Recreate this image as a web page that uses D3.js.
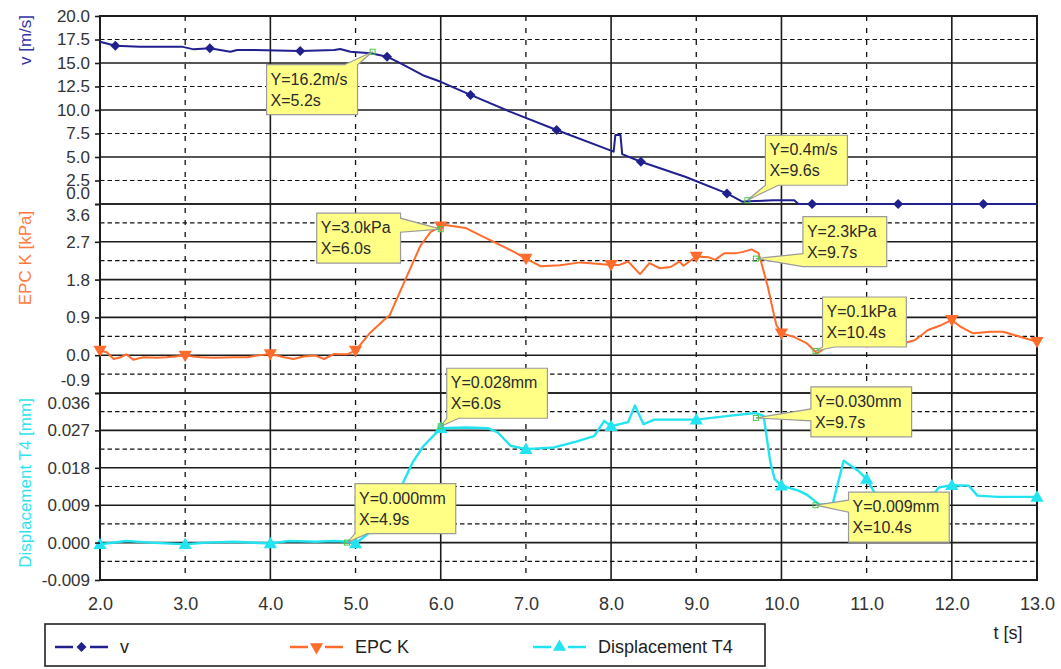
<!DOCTYPE html>
<html><head><meta charset="utf-8">
<script src="https://cdn.jsdelivr.net/npm/d3@7"></script>
<style>
html,body{margin:0;padding:0;background:#fff;}
svg{display:block;font-family:"Liberation Sans",Arial,sans-serif;}
</style></head><body>
<svg id="chart" width="1061" height="669"></svg>
<script>
// ---------------- DATA ----------------
const xTickLabels = [2,3,4,5,6,7,8,9,10,11,12,13];
const vTickLabels = [0,2.5,5,7.5,10,12.5,15,17.5,20];
const epcTickLabels = [-0.9,0,0.9,1.8,2.7,3.6];
const dispTickLabels = [-0.009,0,0.009,0.018,0.027,0.036];

const seriesNames = ["v","EPC K","Displacement T4"];
const axisTitles = ["v [m/s]","EPC K [kPa]","Displacement T4 [mm]"];
const xTitle = "t [s]";

const vT = [2.00,2.18,2.47,2.96,3.10,3.29,3.53,3.61,3.80,4.35,4.75,4.82,4.94,5.18,5.37,5.53,5.79,6.00,6.35,6.82,7.36,8.03,8.05,8.11,8.13,8.35,8.87,9.36,9.54,9.60,9.90,10.15,10.20,10.36,11.37,12.37,13.00];
const vV = [17.27,16.84,16.74,16.74,16.45,16.56,16.20,16.38,16.38,16.28,16.38,16.49,16.20,16.03,15.67,14.96,13.70,13.00,11.60,9.80,7.87,5.57,7.34,7.34,5.30,4.50,2.90,1.13,0.25,0.28,0.40,0.40,0.00,0.00,0.00,0.00,0.00];
const vMarkerT = [2.18,3.29,4.35,5.37,6.35,7.36,8.35,9.36,10.36,11.37,12.37];

const epcT = [2.00,2.08,2.16,2.24,2.31,2.39,2.51,2.67,2.78,3.00,3.18,3.33,3.57,3.73,3.84,4.00,4.16,4.27,4.39,4.53,4.63,4.75,4.82,4.90,5.00,5.16,5.33,5.40,5.53,5.76,5.88,6.00,6.05,6.29,6.46,6.70,6.87,7.00,7.17,7.40,7.64,7.87,8.00,8.10,8.20,8.34,8.45,8.57,8.70,8.80,8.85,9.00,9.15,9.22,9.33,9.47,9.55,9.65,9.73,9.76,9.84,9.90,9.94,10.00,10.14,10.30,10.42,10.60,11.00,11.20,11.43,11.57,11.72,11.88,12.00,12.10,12.25,12.45,12.60,12.80,13.00];
const epcV = [0.11,0.07,-0.09,-0.05,0.02,-0.11,-0.05,-0.06,-0.05,-0.01,-0.05,-0.06,-0.05,-0.05,-0.01,0.03,-0.05,-0.09,-0.03,-0.01,-0.09,0.03,0.02,0.02,0.11,0.51,0.83,0.95,1.55,2.60,2.93,3.07,3.10,3.03,2.86,2.62,2.45,2.30,2.12,2.14,2.21,2.17,2.15,2.15,2.23,1.93,2.19,2.07,2.10,2.23,2.13,2.35,2.33,2.27,2.43,2.43,2.46,2.52,2.43,2.23,1.63,1.07,0.72,0.52,0.44,0.28,0.04,0.30,0.32,0.34,0.28,0.36,0.60,0.72,0.84,0.68,0.52,0.56,0.56,0.44,0.32];
const epcMarkerT = [2,3,4,5,6,7,8,9,10,11,12,13];

const dispT = [2.00,2.31,2.59,3.00,3.25,3.57,4.00,4.22,4.53,4.75,4.90,5.00,5.20,5.35,5.45,5.56,5.67,5.80,6.00,6.30,6.56,6.67,6.82,7.00,7.33,7.59,7.80,7.92,8.00,8.10,8.20,8.28,8.38,8.51,9.00,9.38,9.69,9.79,9.87,9.92,10.00,10.20,10.30,10.44,10.60,10.73,10.90,11.00,11.10,11.50,11.80,11.85,12.00,12.20,12.30,12.54,13.00];
const dispV = [-0.0004,0.0004,0.0000,-0.0004,0.0000,0.0002,-0.0002,0.0004,0.0002,0.0004,0.0002,-0.0002,0.0030,0.0065,0.0100,0.0145,0.0193,0.0233,0.0275,0.0277,0.0275,0.0265,0.0233,0.0225,0.0229,0.0243,0.0256,0.0293,0.0280,0.0285,0.0290,0.0330,0.0285,0.0296,0.0296,0.0305,0.0312,0.0305,0.0193,0.0153,0.0137,0.0125,0.0115,0.0092,0.0092,0.0197,0.0173,0.0153,0.0118,0.0115,0.0120,0.0133,0.0138,0.0137,0.0113,0.0110,0.0110];
const dispMarkerT = [2,3,4,5,6,7,8,9,10,11,12,13];

// callout annotations: series index, X, Y
const annSeries = [0,0,1,1,1,2,2,2,2];
const annX = [5.2,9.6,6.0,9.7,10.4,6.0,9.7,10.4,4.9];
const annY = [16.2,0.4,3.0,2.3,0.1,0.028,0.030,0.009,0.000];
const annUnits = ["m/s","kPa","mm"];
const annDecimals = [1,1,3];

// ---------------- LAYOUT / STYLE ----------------
const colors = ["#20208e","#ff6c2c","#22e4f0"];
const titleColors = ["#3434a8","#ff7a3c","#30e2f0"];
const calloutLayout = [
  {dx:-106, dy:13,  edge:"top",    base:[-13,0]},
  {dx:18,   dy:-65, edge:"bottom", base:[0,13]},
  {dx:-124, dy:-16, edge:"right",  base:[5,19]},
  {dx:47,   dy:-42, edge:"left",   base:[37,50]},
  {dx:7,    dy:-54, edge:"bottom", base:[0,12]},
  {dx:6,    dy:-58, edge:"bottom", base:[0,12]},
  {dx:55,   dy:-31, edge:"left",   base:[22,34]},
  {dx:33,   dy:-13, edge:"left",   base:[8,20]},
  {dx:8,    dy:-59, edge:"bottom", base:[0,12]}
];

const svg = d3.select("#chart");
const L = 100, R = 1037;
const x = d3.scaleLinear().domain([2,13]).range([L,R]);
const yV = d3.scaleLinear().domain([0,20]).range([204,16]);
const yE = d3.scaleLinear().domain([-0.9,3.6]).range([393,204]);
const yD = d3.scaleLinear().domain([-0.009,0.036]).range([580,393]);
const yScales = [yV,yE,yD];
const TOP = yV.range()[1], BOT = yD.range()[0];

const solidCol = "#1c1c1c";
const grid = svg.append("g");

function mids(arr){ return d3.pairs(arr).map(p => (p[0]+p[1])/2); }
const hLines = [];
vTickLabels.forEach(v => hLines.push({y:yV(v), solid: Math.abs(v%5)<1e-9}));
epcTickLabels.forEach(v => hLines.push({y:yE(v), solid:true}));
mids(epcTickLabels).forEach(v => hLines.push({y:yE(v), solid:false}));
dispTickLabels.forEach(v => hLines.push({y:yD(v), solid:true}));
mids(dispTickLabels).forEach(v => hLines.push({y:yD(v), solid:false}));

grid.selectAll("line.hd").data(hLines.filter(d=>!d.solid)).join("line")
  .attr("x1",L).attr("x2",R).attr("y1",d=>d.y).attr("y2",d=>d.y)
  .attr("stroke","#111").attr("stroke-width",1.2).attr("stroke-dasharray","4.5,3");
grid.selectAll("line.vd").data(xTickLabels.filter(t=>t%2===1)).join("line")
  .attr("x1",d=>x(d)).attr("x2",d=>x(d)).attr("y1",TOP).attr("y2",BOT)
  .attr("stroke","#111").attr("stroke-width",1.3).attr("stroke-dasharray","5,7");
grid.selectAll("line.hs").data(hLines.filter(d=>d.solid)).join("line")
  .attr("x1",L).attr("x2",R).attr("y1",d=>d.y).attr("y2",d=>d.y)
  .attr("stroke",solidCol).attr("stroke-width",1.6);
grid.selectAll("line.vs").data(xTickLabels.filter(t=>t%2===0)).join("line")
  .attr("x1",d=>x(d)).attr("x2",d=>x(d)).attr("y1",TOP).attr("y2",BOT)
  .attr("stroke",solidCol).attr("stroke-width",1.6);
svg.append("rect").attr("x",L).attr("y",TOP).attr("width",R-L).attr("height",BOT-TOP)
  .attr("fill","none").attr("stroke",solidCol).attr("stroke-width",2);

// ---------------- SERIES ----------------
const seriesT = [vT,epcT,dispT];
const seriesV = [vV,epcV,dispV];
const markerT = [vMarkerT,epcMarkerT,dispMarkerT];
const symbols = [d3.symbolSquare, d3.symbolTriangle, d3.symbolTriangle];
const symRot = [45,180,0];
const symSize = [50,75,75];

const plot = svg.append("g");
seriesT.forEach((ts,i) => {
  const pts = ts.map((t,k)=>[t, seriesV[i][k]]);
  const line = d3.line().x(d=>x(d[0])).y(d=>yScales[i](d[1]));
  plot.append("path").datum(pts).attr("d",line)
    .attr("fill","none").attr("stroke",colors[i]).attr("stroke-width",i===2?2.4:2)
    .attr("stroke-linejoin","round");
  const mk = markerT[i].map(t => pts.find(p => Math.abs(p[0]-t)<1e-9)).filter(Boolean);
  plot.selectAll(null).data(mk).join("path")
    .attr("d", d3.symbol().type(symbols[i]).size(symSize[i]))
    .attr("transform", d => `translate(${x(d[0])},${yScales[i](d[1]) + (i===1?-1:(i===2?1:0))}) rotate(${symRot[i]})`)
    .attr("fill",colors[i]);
});

// ---------------- AXES ----------------
const fmt = [d=>d.toFixed(1), d=>d.toFixed(1), d=>d.toFixed(3)];
const tickSets = [vTickLabels,epcTickLabels,dispTickLabels];
const labelShift = [
  d => d===0 ? -11 : 0,
  d => d===3.6 ? 11 : (d===-0.9 ? -13 : 0),
  d => d===0.036 ? 10 : 0
];
yScales.forEach((ys,i) => {
  const g = svg.append("g").attr("transform",`translate(${L},0)`)
    .call(d3.axisLeft(ys).tickValues(tickSets[i]).tickSize(5).tickPadding(5).tickFormat(fmt[i]));
  g.select(".domain").remove();
  g.selectAll(".tick line").attr("stroke",solidCol).attr("stroke-width",1.6);
  g.selectAll(".tick text").attr("fill","#333").attr("font-size",17)
    .attr("font-family","'Liberation Sans',Arial,sans-serif")
    .attr("transform", d => `translate(0,${labelShift[i](d)})`);
});
const gx = svg.append("g").attr("transform",`translate(0,${BOT})`)
  .call(d3.axisBottom(x).tickValues(xTickLabels).tickSize(0).tickPadding(17).tickFormat(d=>d.toFixed(1)));
gx.select(".domain").remove();
gx.selectAll(".tick text").attr("fill","#333").attr("font-size",18)
  .attr("font-family","'Liberation Sans',Arial,sans-serif");

const titleY = [40, 258, 483];
axisTitles.forEach((t,i) => {
  svg.append("text").attr("transform",`translate(25,${titleY[i]}) rotate(-90)`)
    .attr("text-anchor","middle").attr("dy","0.35em")
    .attr("font-size",17).attr("fill",titleColors[i]).text(t);
});
svg.append("text").attr("x",1008).attr("y",639).attr("text-anchor","middle")
  .attr("font-size",18).attr("fill","#222").text(xTitle);

// ---------------- CALLOUTS ----------------
const cg = svg.append("g");
annX.forEach((ax,k) => {
  const si = annSeries[k];
  const px = x(ax), py = yScales[si](annY[k]);
  const lay = calloutLayout[k];
  const l1 = `Y=${annY[k].toFixed(annDecimals[si])}${annUnits[si]}`;
  const l2 = `X=${ax.toFixed(1)}s`;
  const g = cg.append("g");
  const t1 = g.append("text").attr("font-size",16).attr("fill","#2a2a2a").text(l1);
  const t2 = g.append("text").attr("font-size",16).attr("fill","#2a2a2a").text(l2);
  const w = Math.max(t1.node().getComputedTextLength(), t2.node().getComputedTextLength()) + 14;
  const h = 50;
  const x0 = px + lay.dx, y0 = py + lay.dy, x1 = x0 + w, y1 = y0 + h;
  const b = lay.base.map(v => (v < 0 || (lay.base[0] < 0 && v === 0)) ? (lay.edge==="top"||lay.edge==="bottom" ? w : h) + v : v);
  let pts;
  if (lay.edge==="top") pts=[[x0,y0],[x0+b[0],y0],[px,py],[x0+b[1],y0],[x1,y0],[x1,y1],[x0,y1]];
  else if (lay.edge==="right") pts=[[x0,y0],[x1,y0],[x1,y0+b[0]],[px,py],[x1,y0+b[1]],[x1,y1],[x0,y1]];
  else if (lay.edge==="bottom") pts=[[x0,y0],[x1,y0],[x1,y1],[x0+b[1],y1],[px,py],[x0+b[0],y1],[x0,y1]];
  else pts=[[x0,y0],[x1,y0],[x1,y1],[x0,y1],[x0,y0+b[1]],[px,py],[x0,y0+b[0]]];
  g.insert("path","text").attr("d","M"+pts.map(p=>p.join(",")).join("L")+"Z")
    .attr("fill","#ffff86").attr("stroke","#9a9a9a").attr("stroke-width",1.2)
    .attr("stroke-linejoin","miter");
  t1.attr("x",x0+4).attr("y",y0+20);
  t2.attr("x",x0+4).attr("y",y0+41);
  g.append("rect").attr("x",px-2.5).attr("y",py-2.5).attr("width",5).attr("height",5)
    .attr("fill","none").attr("stroke","#44cc44").attr("stroke-width",1);
});

// ---------------- LEGEND ----------------
const lg = svg.append("g");
lg.append("rect").attr("x",45).attr("y",624).attr("width",720).attr("height",42)
  .attr("fill","#fff").attr("stroke","#222").attr("stroke-width",1.6);
const legX = [55,290,533];
seriesNames.forEach((n,i) => {
  const lx = legX[i], ly = 647;
  lg.append("line").attr("x1",lx).attr("x2",lx+53).attr("y1",ly).attr("y2",ly)
    .attr("stroke",colors[i]).attr("stroke-width",2.4);
  lg.append("rect").attr("x",lx+18).attr("y",ly-4).attr("width",17).attr("height",8).attr("fill","#fff");
  lg.append("path").attr("d",d3.symbol().type(symbols[i]).size(symSize[i]))
    .attr("transform",`translate(${lx+26.5},${ly}) rotate(${symRot[i]})`)
    .attr("fill",colors[i]);
  lg.append("text").attr("x",lx+65).attr("y",ly+6).attr("font-size",18).attr("fill","#222").text(n);
});
</script>
</body></html>
